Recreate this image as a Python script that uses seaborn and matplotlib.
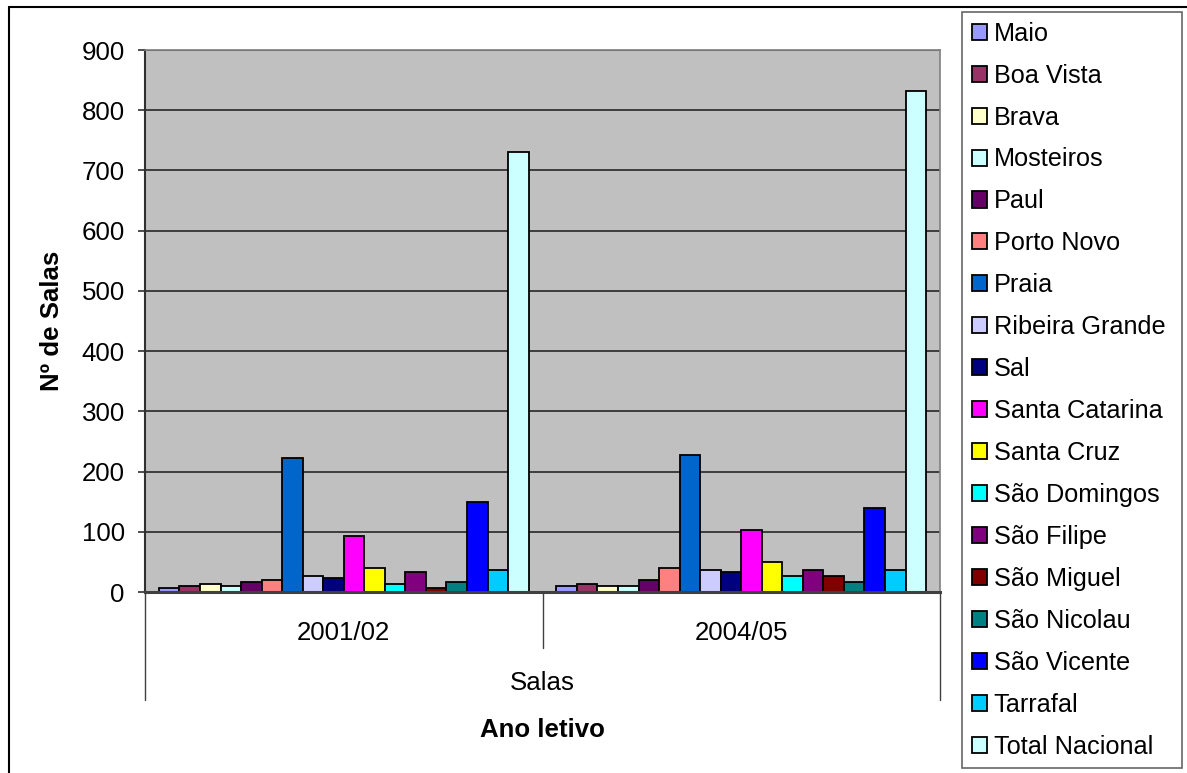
import matplotlib
matplotlib.use("Agg")
import matplotlib.pyplot as plt
import seaborn as sns
import pandas as pd

# Number of classrooms per municipality, by school year
anos = ["2001/02", "2004/05"]
concelhos = [
    "Maio", "Boa Vista", "Brava", "Mosteiros", "Paul", "Porto Novo", "Praia",
    "Ribeira Grande", "Sal", "Santa Catarina", "Santa Cruz", "São Domingos",
    "São Filipe", "São Miguel", "São Nicolau", "São Vicente", "Tarrafal",
    "Total Nacional",
]
salas_2001 = [7, 10, 13, 10, 17, 20, 223, 26, 23, 93, 40, 13, 33, 7, 17, 150, 37, 730]
salas_2004 = [10, 13, 10, 10, 20, 40, 227, 37, 33, 103, 50, 27, 37, 27, 17, 140, 37, 832]
cores = [
    "#9999FF", "#993366", "#FFFFCC", "#CCFFFF", "#660066", "#FF8080", "#0066CC",
    "#CCCCFF", "#000080", "#FF00FF", "#FFFF00", "#00FFFF", "#800080", "#800000",
    "#008080", "#0000FF", "#00CCFF", "#CCFFFF",
]

df = pd.DataFrame({
    "Ano": [anos[0]] * len(concelhos) + [anos[1]] * len(concelhos),
    "Concelho": concelhos * 2,
    "Salas": salas_2001 + salas_2004,
})

sns.set_theme(style="white")
plt.rcParams["font.family"] = ["Liberation Sans", "DejaVu Sans"]
plt.rcParams["text.color"] = "black"
plt.rcParams["axes.labelcolor"] = "black"
plt.rcParams["xtick.color"] = "black"
plt.rcParams["ytick.color"] = "black"

FS = 18.6
W, H = 1187, 773
fig = plt.figure(figsize=(W / 100, H / 100), dpi=100)
fig.patch.set_facecolor("white")

L, R, T, B = 145, 940, 50, 592
ax = fig.add_axes([L / W, 1 - B / H, (R - L) / W, (B - T) / H])
ax.set_facecolor("#C0C0C0")

sns.barplot(
    data=df, x="Ano", y="Salas", hue="Concelho", hue_order=concelhos,
    palette=cores, saturation=1, width=0.93, gap=0, edgecolor="black",
    linewidth=1.3, ax=ax, errorbar=None, zorder=3,
)

ax.set_xlim(-0.5, 1.5)
ax.set_ylim(0, 900)
ax.set_yticks(range(0, 901, 100))
ax.yaxis.grid(True, color="#333333", linewidth=1.3, zorder=0)
ax.set_axisbelow(True)

for side in ("top", "right"):
    ax.spines[side].set_color("#808080")
    ax.spines[side].set_linewidth(1.2)
ax.spines["left"].set_color("#303030")
ax.spines["left"].set_linewidth(1.5)
ax.spines["bottom"].set_color("#404040")
ax.spines["bottom"].set_linewidth(2.2)
ax.spines["bottom"].set_zorder(5)

ax.tick_params(axis="y", direction="out", length=5, width=1.2, color="#303030",
               labelsize=FS, pad=9.5, left=True, labelcolor="black")
ax.tick_params(axis="x", length=0, labelsize=FS, pad=21, labelcolor="black")

# Category separators below the axis
tr = ax.get_xaxis_transform()
for xs, y_end in ((-0.5, -0.199), (0.5, -0.103), (1.5, -0.199)):
    ax.plot([xs, xs], [0, y_end], transform=tr, color="#404040",
            linewidth=1.0, clip_on=False)

ax.text(0.5, -0.168, "Salas", transform=ax.transAxes, ha="center",
        va="center", fontsize=FS, color="black")

ax.set_xlabel("Ano letivo", fontsize=FS, fontweight="bold", color="black")
ax.xaxis.set_label_coords(0.5, -0.255)
ax.xaxis.label.set_va("center")
ax.set_ylabel("Nº de Salas", fontsize=FS, fontweight="bold", color="black")
ax.yaxis.set_label_coords(-0.117, 0.5)
ax.yaxis.label.set_va("center")

# Legend on the right
handles, labels = ax.get_legend_handles_labels()
ax.legend_.remove()
leg = fig.legend(
    handles, labels, loc="upper left",
    bbox_to_anchor=(962 / W, 1 - 769 / H, 220 / W, 757 / H),
    mode="expand", fontsize=18.2, frameon=True, fancybox=False,
    handlelength=0.6, handleheight=0.6, handletextpad=0.28,
    labelspacing=0.71, borderpad=0.38, borderaxespad=0,
    labelcolor="black",
)
leg.get_frame().set_edgecolor("#404040")
leg.get_frame().set_linewidth(1.2)

# Outer chart border
fig.add_artist(plt.Line2D([9 / W, 1], [1 - 7 / H, 1 - 7 / H],
                          transform=fig.transFigure, color="black", linewidth=1.5))
fig.add_artist(plt.Line2D([9 / W, 9 / W], [0, 1 - 7 / H],
                          transform=fig.transFigure, color="black", linewidth=1.5))

fig.savefig("out.png", dpi=100)
